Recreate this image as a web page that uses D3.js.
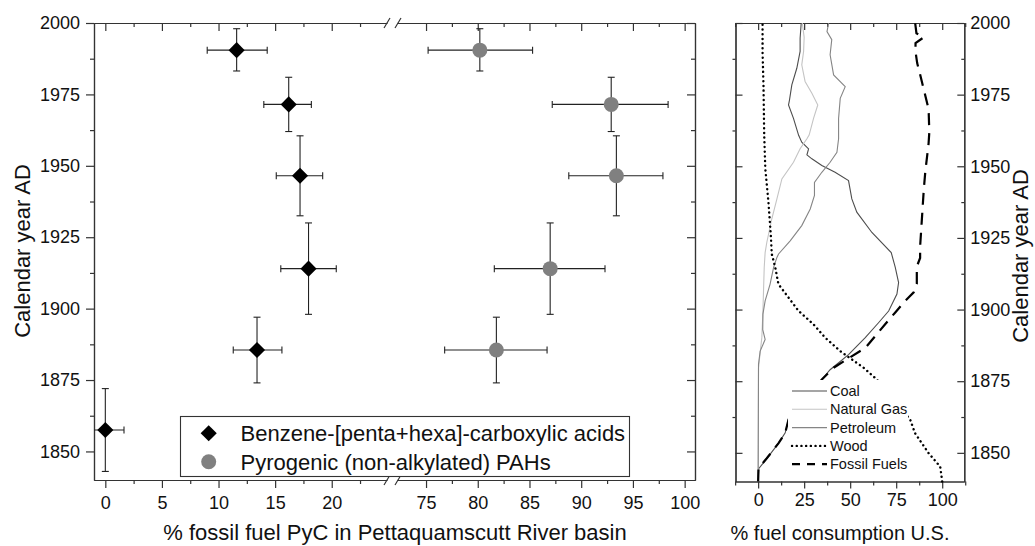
<!DOCTYPE html>
<html>
<head>
<meta charset="utf-8">
<script src="https://cdn.jsdelivr.net/npm/d3@7"></script>
<style>
  body { margin: 0; background: #fff; }
  svg { font-family: "Liberation Sans", Arial, sans-serif; }
</style>
</head>
<body>
<div id="chart"></div>
<script>
// sediment core samples: calendar age and age uncertainty
const sampleYears = [1990.5, 1971.5, 1946.5, 1914, 1885.5, 1857.5];
const yearHigh = [1998, 1981, 1960.5, 1930, 1897, 1872];
const yearLow = [1983.2, 1962, 1932.5, 1898, 1874, 1843];

// Benzene-[penta+hexa]-carboxylic acids (% fossil PyC)
const bpcaValues = [11.6, 16.2, 17.2, 17.95, 13.4, 0];
const bpcaLow = [9, 14, 15.1, 15.5, 11.3, -1.65];
const bpcaHigh = [14.3, 18.2, 19.2, 20.4, 15.6, 1.65];

// Pyrogenic (non-alkylated) PAHs, first five samples
const pahValues = [80.2, 92.9, 93.4, 87.0, 81.8];
const pahLow = [75.2, 87.2, 88.8, 81.6, 76.8];
const pahHigh = [85.3, 98.4, 97.9, 92.3, 86.7];

// US fuel consumption shares (%)
const coalYears = [1840, 1844.5, 1848, 1853.4, 1857, 1861.6, 1875.6, 1879, 1884.3, 1890.2, 1895.4, 1899.5, 1905.4, 1909.4, 1914.7, 1919.9, 1926.9, 1934, 1938.6, 1945, 1947.9, 1950.3, 1952.6, 1954, 1956.1, 1958.4, 1960.8, 1966.7, 1971.4, 1973, 1978.4, 1984.2, 1990.1, 1994.7, 2000];
const coalValues = [0, 0.3, 4.7, 11.1, 14.7, 16.5, 34.6, 39.1, 49.1, 58.2, 65.4, 70.9, 75.4, 76.3, 74.5, 72.3, 61.8, 53.6, 50.9, 49.1, 41.8, 34.6, 29.2, 26.5, 27.4, 23.7, 22, 19.2, 16.5, 17, 18.3, 21, 22.8, 22.8, 23.4];

const gasYears = [1840, 1879.7, 1890.2, 1899.5, 1914.7, 1919.9, 1923.4, 1931.6, 1938.6, 1945.6, 1951.4, 1956.1, 1959.6, 1960.9, 1966.7, 1971.4, 1975.5, 1979.6, 1985.4, 1990.1, 1995, 2000];
const gasValues = [0, 0.2, 2.0, 2.6, 3.3, 3.8, 4.7, 7.4, 10.2, 12.9, 19.2, 22.8, 26.5, 27.7, 30.1, 32.4, 29.2, 25.5, 23.7, 24.7, 25, 24];

const petroleumYears = [1840, 1880.9, 1885.5, 1889.6, 1893, 1898.4, 1903, 1908.9, 1914.7, 1918.2, 1919.4, 1924, 1929.3, 1935.1, 1939.8, 1944.4, 1947.9, 1951.4, 1954.9, 1959.6, 1966.7, 1973.7, 1977.8, 1981.9, 1988.9, 1994.2, 1997, 2000];
const petroleumValues = [0, 0.2, 1.1, 3.8, 2.5, 2.6, 3.8, 6.5, 8.4, 10.2, 11.1, 17.4, 23.7, 28.3, 30.6, 30.6, 34.6, 39.1, 42.8, 43.7, 43.7, 44.6, 47.3, 41, 39.1, 40, 37.4, 38.3];

const woodYears = [1840, 1845.2, 1849.9, 1856.9, 1861.6, 1875.6, 1879.7, 1885.5, 1890.2, 1894.9, 1899.5, 1904.2, 1908.9, 1914.7, 1919.4, 1925.8, 1937.4, 1949.1, 1960.8, 1978.4, 1990, 2000];
const woodValues = [100, 98.9, 92.6, 85.2, 82.6, 64.5, 57.3, 44.6, 36.4, 30, 22, 16.5, 11, 9.3, 7.4, 6.9, 5.6, 3.9, 3.3, 2.9, 2.4, 2.4];

const fossilYears = [1840, 1844.6, 1848.1, 1853.4, 1856.9, 1861.6, 1875.6, 1879.7, 1883, 1886.6, 1890.7, 1894.9, 1899, 1903, 1906, 1909, 1915, 1918, 1922, 1932, 1942, 1948, 1958, 1962, 1970, 1977, 1982, 1986, 1990, 1993, 1995, 1996.4, 2000];
const fossilValues = [0, 0.2, 4.7, 11.1, 14.7, 16.5, 34.6, 41, 49.1, 58.2, 63.6, 69, 74.5, 79.9, 84.5, 86.2, 86.2, 88, 88, 89, 90, 90.8, 92.6, 93, 92.6, 89.9, 88, 86.4, 85.5, 85.5, 90, 86, 85.3];

// ticks
const yTicks = [1850, 1875, 1900, 1925, 1950, 1975, 2000];
const yMinorTicks = [1862.5, 1887.5, 1912.5, 1937.5, 1962.5, 1987.5];
const lowTicks = [0, 5, 10, 15, 20];
const lowMinorTicks = [2.5, 7.5, 12.5, 17.5, 22.5];
const highTicks = [75, 80, 85, 90, 95, 100];
const highMinorTicks = [77.5, 82.5, 87.5, 92.5, 97.5];
const fuelTicks = [0, 25, 50, 75, 100];
const fuelMinorTicks = [-12.5, 12.5, 37.5, 62.5, 87.5, 112.5];

const width = 1035, height = 546;
const axisColor = "#333";

const svg = d3.select("#chart").append("svg")
    .attr("width", width)
    .attr("height", height)
    .attr("viewBox", [0, 0, width, height]);

// ---------- left panel ----------
const left = { x0: 94, x1: 695, y0: 23, y1: 480 };
const xLow = d3.scaleLinear([-1, 25.5], [94, 394]);
const xHigh = d3.scaleLinear([72, 101], [395, 695]);
const y = d3.scaleLinear([1840, 2000], [left.y1, left.y0]);
const xFossil = v => v > 50 ? xHigh(v) : xLow(v);

function styleAxis(g, fontSize) {
    g.selectAll("path, line").attr("stroke", axisColor).attr("stroke-width", 1.2);
    g.selectAll("text").attr("fill", "#111").attr("font-size", fontSize)
        .attr("font-family", "Liberation Sans, Arial, sans-serif");
}

function addAxis(axis, transform, fontSize) {
    const g = svg.append("g").attr("transform", transform).call(axis);
    styleAxis(g, fontSize);
    return g;
}

// bottom and top, two segments each
for (const [sc, ticks, minor] of [[xLow, lowTicks, lowMinorTicks], [xHigh, highTicks, highMinorTicks]]) {
    addAxis(d3.axisBottom(sc).tickValues(ticks).tickSize(8).tickSizeOuter(0).tickPadding(8),
        `translate(0,${left.y1})`, 18);
    addAxis(d3.axisBottom(sc).tickValues(minor).tickSize(4).tickSizeOuter(0).tickFormat(""),
        `translate(0,${left.y1})`, 18);
    addAxis(d3.axisTop(sc).tickValues(ticks).tickSize(-8).tickSizeOuter(0).tickFormat(""),
        `translate(0,${left.y0})`, 18);
    addAxis(d3.axisTop(sc).tickValues(minor).tickSize(-4).tickSizeOuter(0).tickFormat(""),
        `translate(0,${left.y0})`, 18);
}

addAxis(d3.axisLeft(y).tickValues(yTicks).tickSize(8).tickSizeOuter(0).tickPadding(6).tickFormat(d3.format("d")),
    `translate(${left.x0},0)`, 18);
addAxis(d3.axisLeft(y).tickValues(yMinorTicks).tickSize(4).tickSizeOuter(0).tickFormat(""),
    `translate(${left.x0},0)`, 18);
addAxis(d3.axisRight(y).tickValues(yTicks).tickSize(-8).tickSizeOuter(0).tickFormat(""),
    `translate(${left.x1},0)`, 18);
addAxis(d3.axisRight(y).tickValues(yMinorTicks).tickSize(-4).tickSizeOuter(0).tickFormat(""),
    `translate(${left.x1},0)`, 18);

// axis break marks
for (const yy of [left.y0, left.y1]) {
    svg.append("rect").attr("x", 387.5).attr("y", yy - 2).attr("width", 10).attr("height", 4).attr("fill", "#fff");
    for (const bx of [384, 395]) {
        svg.append("line")
            .attr("x1", bx).attr("y1", yy + 5)
            .attr("x2", bx + 6).attr("y2", yy - 5)
            .attr("stroke", axisColor).attr("stroke-width", 1.2);
    }
}

svg.append("clipPath").attr("id", "leftClip").append("rect")
    .attr("x", left.x0).attr("y", left.y0)
    .attr("width", left.x1 - left.x0).attr("height", left.y1 - left.y0);

const plot = svg.append("g").attr("clip-path", "url(#leftClip)");

function errorBars(values, lows, highs) {
    const cap = 3.5;
    values.forEach((v, i) => {
        const cx = xFossil(v), cy = y(sampleYears[i]);
        const g = plot.append("g").attr("stroke", "#222").attr("stroke-width", 1.1);
        g.append("line").attr("x1", cx).attr("x2", cx).attr("y1", y(yearHigh[i])).attr("y2", y(yearLow[i]));
        g.append("line").attr("x1", cx - cap).attr("x2", cx + cap).attr("y1", y(yearHigh[i])).attr("y2", y(yearHigh[i]));
        g.append("line").attr("x1", cx - cap).attr("x2", cx + cap).attr("y1", y(yearLow[i])).attr("y2", y(yearLow[i]));
        g.append("line").attr("x1", xFossil(lows[i])).attr("x2", xFossil(highs[i])).attr("y1", cy).attr("y2", cy);
        g.append("line").attr("x1", xFossil(lows[i])).attr("x2", xFossil(lows[i])).attr("y1", cy - cap).attr("y2", cy + cap);
        g.append("line").attr("x1", xFossil(highs[i])).attr("x2", xFossil(highs[i])).attr("y1", cy - cap).attr("y2", cy + cap);
    });
}

errorBars(bpcaValues, bpcaLow, bpcaHigh);
errorBars(pahValues, pahLow, pahHigh);

plot.selectAll(".bpca").data(bpcaValues).join("path")
    .attr("d", d3.symbol().type(d3.symbolSquare).size(130))
    .attr("transform", (d, i) => `translate(${xFossil(d)},${y(sampleYears[i])}) rotate(45)`)
    .attr("fill", "#000");

plot.selectAll(".pah").data(pahValues).join("circle")
    .attr("cx", d => xFossil(d))
    .attr("cy", (d, i) => y(sampleYears[i]))
    .attr("r", 7.5)
    .attr("fill", "#808080");

// legend
const legend = svg.append("g");
legend.append("rect").attr("x", 180.5).attr("y", 416.5).attr("width", 449).attr("height", 60)
    .attr("fill", "#fff").attr("stroke", axisColor).attr("stroke-width", 1.1);
legend.append("path").attr("d", d3.symbol().type(d3.symbolSquare).size(130))
    .attr("transform", "translate(208.7,433.3) rotate(45)").attr("fill", "#000");
legend.append("circle").attr("cx", 208.7).attr("cy", 461.7).attr("r", 7.5).attr("fill", "#808080");
legend.append("text").attr("x", 240.5).attr("y", 441).attr("font-size", 22).attr("fill", "#111")
    .text("Benzene-[penta+hexa]-carboxylic acids");
legend.append("text").attr("x", 240.5).attr("y", 469.5).attr("font-size", 22).attr("fill", "#111")
    .text("Pyrogenic (non-alkylated) PAHs");

svg.append("text").attr("x", 395).attr("y", 540).attr("text-anchor", "middle")
    .attr("font-size", 22).attr("fill", "#111")
    .text("% fossil fuel PyC in Pettaquamscutt River basin");

svg.append("text").attr("transform", "translate(30,251) rotate(-90)").attr("text-anchor", "middle")
    .attr("font-size", 22).attr("fill", "#111")
    .text("Calendar year AD");

// ---------- right panel ----------
const right = { x0: 735.5, x1: 964.3, y0: 23, y1: 481.5 };
const xFuel = d3.scaleLinear([-12.3, 112], [right.x0, right.x1]);
const yFuel = d3.scaleLinear([1840, 2000], [right.y1, right.y0]);

addAxis(d3.axisBottom(xFuel).tickValues(fuelTicks).tickSize(7).tickSizeOuter(0).tickPadding(5),
    `translate(0,${right.y1})`, 18);
addAxis(d3.axisBottom(xFuel).tickValues(fuelMinorTicks).tickSize(4).tickSizeOuter(0).tickFormat(""),
    `translate(0,${right.y1})`, 18);
addAxis(d3.axisTop(xFuel).tickValues(fuelTicks).tickSize(-7).tickSizeOuter(0).tickFormat(""),
    `translate(0,${right.y0})`, 18);
addAxis(d3.axisTop(xFuel).tickValues(fuelMinorTicks).tickSize(-4).tickSizeOuter(0).tickFormat(""),
    `translate(0,${right.y0})`, 18);
addAxis(d3.axisLeft(yFuel).tickValues(yTicks).tickSize(-7).tickSizeOuter(0).tickFormat(""),
    `translate(${right.x0},0)`, 18);
addAxis(d3.axisLeft(yFuel).tickValues(yMinorTicks).tickSize(3).tickSizeOuter(0).tickFormat(""),
    `translate(${right.x0},0)`, 18);
addAxis(d3.axisRight(yFuel).tickValues(yTicks).tickSize(-7).tickSizeOuter(0).tickPadding(6).tickFormat(d3.format("d")),
    `translate(${right.x1},0)`, 18);
addAxis(d3.axisRight(yFuel).tickValues(yMinorTicks).tickSize(-3).tickSizeOuter(0).tickFormat(""),
    `translate(${right.x1},0)`, 18);

const fuelSeries = [
    { name: "Coal", years: coalYears, values: coalValues, color: "#4d4d4d", width: 1.1, dash: null },
    { name: "Natural Gas", years: gasYears, values: gasValues, color: "#c4c4c4", width: 1.1, dash: null },
    { name: "Petroleum", years: petroleumYears, values: petroleumValues, color: "#858585", width: 1.1, dash: null },
    { name: "Wood", years: woodYears, values: woodValues, color: "#000", width: 2.4, dash: "0.1,4.6", cap: "round" },
    { name: "Fossil Fuels", years: fossilYears, values: fossilValues, color: "#000", width: 2.2, dash: "12,8" }
];

const fuelLine = d3.line()
    .x(d => xFuel(d.value))
    .y(d => yFuel(d.year));

for (const s of fuelSeries) {
    const pts = s.years.map((yr, i) => ({ year: yr, value: s.values[i] }));
    svg.append("path")
        .attr("fill", "none")
        .attr("stroke", s.color)
        .attr("stroke-width", s.width)
        .attr("stroke-dasharray", s.dash)
        .attr("stroke-linecap", s.cap || "butt")
        .attr("d", fuelLine(pts));
}

// legend (white box over the lines)
const fuelLegend = svg.append("g");
fuelLegend.append("rect").attr("x", 788).attr("y", 380).attr("width", 120).attr("height", 92).attr("fill", "#fff");
fuelSeries.forEach((s, i) => {
    const ly = 391 + i * 18.3;
    fuelLegend.append("line")
        .attr("x1", 792).attr("x2", 827).attr("y1", ly).attr("y2", ly)
        .attr("stroke", s.color).attr("stroke-width", s.width)
        .attr("stroke-dasharray", s.dash ? (s.cap ? "0.1,4.6" : "8,7") : null)
        .attr("stroke-linecap", s.cap || "butt");
    fuelLegend.append("text").attr("x", 830).attr("y", ly + 5)
        .attr("font-size", 14.5).attr("fill", "#111").text(s.name);
});

svg.append("text").attr("x", 840).attr("y", 540).attr("text-anchor", "middle")
    .attr("font-size", 20).attr("fill", "#111")
    .text("% fuel consumption U.S.");

svg.append("text").attr("transform", "translate(1028,256) rotate(-90)").attr("text-anchor", "middle")
    .attr("font-size", 22).attr("fill", "#111")
    .text("Calendar year AD");
</script>
</body>
</html>
